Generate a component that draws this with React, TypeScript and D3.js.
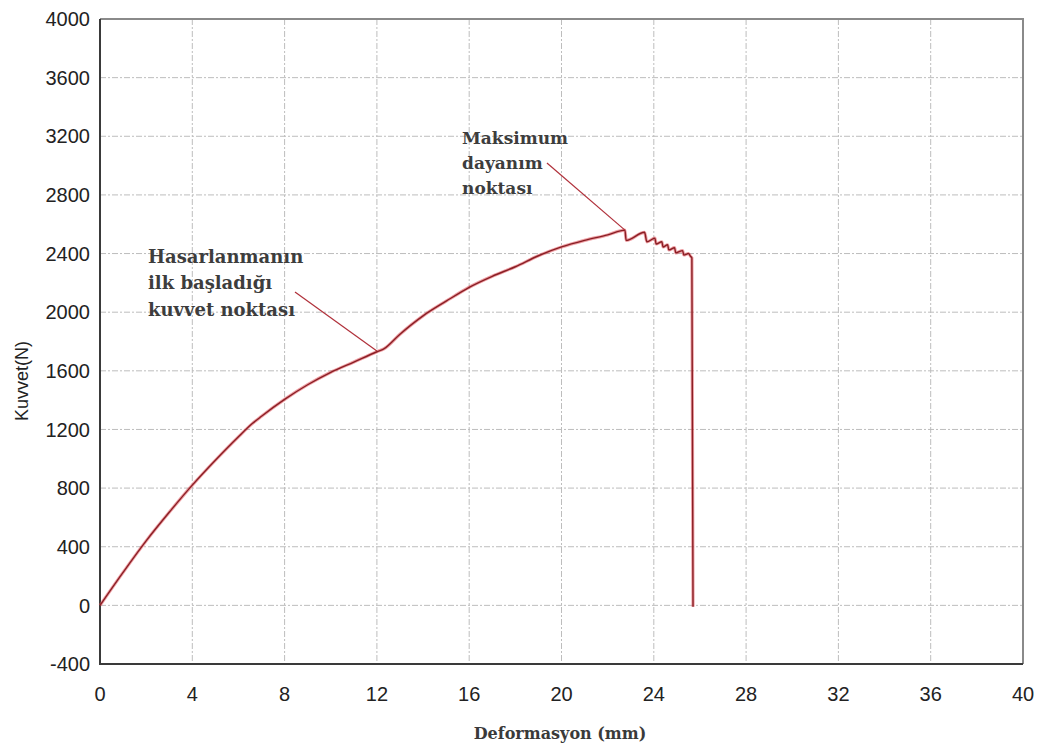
import React, { useEffect, useRef } from 'react';
import * as d3 from 'd3';

// deformasyon (mm) ve kuvvet (N) - grafikten okunan noktalar
const deformasyon = [
  0, 1, 2, 3, 4, 5, 6, 6.6, 7, 8, 9, 10, 11, 12, 12.3, 13, 14, 15, 16, 17, 18,
  19, 20, 21, 22, 22.75, 22.8, 23.6, 23.7, 24.05, 24.1, 24.35, 24.4, 24.6,
  24.65, 24.9, 24.95, 25.25, 25.3, 25.5, 25.6, 25.65, 25.7,
];
const kuvvet = [
  0, 225, 440, 635, 820, 990, 1150, 1240, 1290, 1405, 1505, 1590, 1660, 1730,
  1750, 1850, 1975, 2075, 2170, 2245, 2310, 2385, 2445, 2490, 2527, 2560, 2490,
  2545, 2480, 2505, 2465, 2480, 2445, 2460, 2425, 2440, 2405, 2420, 2390, 2400,
  2380, 2370, -10,
];

const xTicks = [0, 4, 8, 12, 16, 20, 24, 28, 32, 36, 40];
const yTicks = [-400, 0, 400, 800, 1200, 1600, 2000, 2400, 2800, 3200, 3600, 4000];

// açıklamalar: metin konumu ve ok ucu (veri birimlerinde)
const notes = [
  {
    lines: ['Hasarlanmanın', 'ilk başladığı', 'kuvvet noktası'],
    tx: 2.08, ty: 2336, gap: 26.5, size: 18,
    from: [8.45, 2138], to: [12, 1735],
  },
  {
    lines: ['Maksimum', 'dayanım', 'noktası'],
    tx: 15.69, ty: 3150, gap: 25, size: 17,
    from: [19.37, 3018], to: [22.75, 2560],
  },
];

const App = () => {
  const svgRef = useRef(null);

  useEffect(() => {
    document.body.style.margin = '0';
    const W = 1041, H = 747;
    const left = 100, top = 19, right = 1023, bottom = 664;

    const svg = d3.select(svgRef.current).attr('width', W).attr('height', H);
    svg.selectAll('*').remove();

    const x = d3.scaleLinear().domain([0, 40]).range([left, right]);
    const y = d3.scaleLinear().domain([-400, 4000]).range([bottom, top]);

    svg.append('rect').attr('width', W).attr('height', H).attr('fill', '#fff');

    // grid
    const grid = svg.append('g')
      .attr('stroke', '#a8a8a8').attr('stroke-width', 1)
      .attr('stroke-dasharray', '6 2 2 2').attr('opacity', 0.75);
    grid.selectAll('.vx').data(xTicks.slice(1, -1)).join('line')
      .attr('x1', d => x(d)).attr('x2', d => x(d))
      .attr('y1', top).attr('y2', bottom);
    grid.selectAll('.hy').data(yTicks.slice(1, -1)).join('line')
      .attr('y1', d => y(d)).attr('y2', d => y(d))
      .attr('x1', left).attr('x2', right);

    // frame
    svg.append('path')
      .attr('d', `M${left},${top}H${right}V${bottom}`)
      .attr('fill', 'none').attr('stroke', '#8a8a8a').attr('stroke-width', 2);
    svg.append('path')
      .attr('d', `M${left},${top}V${bottom}H${right}`)
      .attr('fill', 'none').attr('stroke', '#3a3a3a').attr('stroke-width', 2);

    // tick labels
    svg.append('g').selectAll('text').data(yTicks).join('text')
      .attr('x', 90).attr('y', d => y(d)).attr('dy', '0.36em')
      .attr('text-anchor', 'end')
      .attr('font-family', 'Liberation Sans, Arial, sans-serif')
      .attr('font-size', 20).attr('fill', '#222')
      .text(d => d);
    svg.append('g').selectAll('text').data(xTicks).join('text')
      .attr('x', d => x(d)).attr('y', 701)
      .attr('text-anchor', 'middle')
      .attr('font-family', 'Liberation Sans, Arial, sans-serif')
      .attr('font-size', 20).attr('fill', '#222')
      .text(d => d);

    // axis titles
    svg.append('text')
      .attr('transform', 'translate(28,381) rotate(-90)')
      .attr('text-anchor', 'middle')
      .attr('font-family', 'Liberation Sans, Arial, sans-serif')
      .attr('font-size', 18).attr('fill', '#222')
      .text('Kuvvet(N)');
    svg.append('text')
      .attr('x', 560).attr('y', 739)
      .attr('text-anchor', 'middle')
      .attr('font-family', 'DejaVu Serif, serif').attr('font-weight', 'bold')
      .attr('font-size', 16).attr('fill', '#3a3a3a')
      .text('Deformasyon (mm)');

    // curve
    const pts = deformasyon.map((d, i) => [d, kuvvet[i]]);
    const line = d3.line().x(d => x(d[0])).y(d => y(d[1])).curve(d3.curveMonotoneX);
    svg.append('path').datum(pts)
      .attr('d', line)
      .attr('fill', 'none').attr('stroke', '#e0505a').attr('stroke-width', 3.2)
      .attr('opacity', 0.55);
    svg.append('path').datum(pts)
      .attr('d', line)
      .attr('fill', 'none').attr('stroke', '#8a1f25').attr('stroke-width', 1.4);

    // annotations
    notes.forEach(n => {
      svg.append('line')
        .attr('x1', x(n.from[0])).attr('y1', y(n.from[1]))
        .attr('x2', x(n.to[0])).attr('y2', y(n.to[1]))
        .attr('stroke', '#b0303a').attr('stroke-width', 1.2);
      const t = svg.append('text')
        .attr('x', x(n.tx)).attr('y', y(n.ty))
        .attr('font-family', 'DejaVu Serif, serif').attr('font-weight', 'bold')
        .attr('font-size', n.size).attr('fill', '#3d3d3d');
      n.lines.forEach((l, i) => {
        t.append('tspan').attr('x', x(n.tx)).attr('dy', i === 0 ? 0 : n.gap).text(l);
      });
    });
  }, []);

  return <svg ref={svgRef} style={{ display: 'block' }}></svg>;
};

export default App;
